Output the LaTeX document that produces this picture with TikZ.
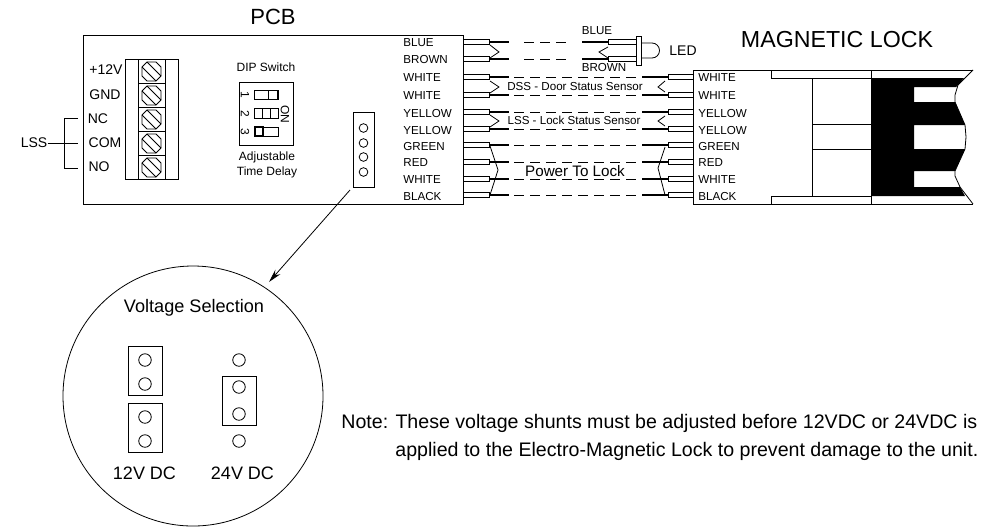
\documentclass[tikz,border=0pt]{standalone}
\usepackage{fontspec}
\setmainfont{Liberation Sans}
\usetikzlibrary{arrows.meta}
\tikzset{
	thickwire/.style={line width=1.5pt},
	dashwire/.style={line width=0.6pt, dash pattern=on 7.5pt off 4.5pt},
	wirelabel/.style={font=\fontsize{8.7}{10}\selectfont, inner sep=0pt, anchor=west},
	termlabel/.style={font=\fontsize{10.5}{12}\selectfont, inner sep=0pt},
	dipnum/.style={font=\fontsize{9}{10}\selectfont, inner sep=0pt, rotate=-90},
	pinhole/.style={draw, circle, line width=0.6pt, minimum size=12.5*0.75pt, inner sep=0pt},
	smallhole/.style={draw, circle, line width=0.6pt, minimum size=6.5pt, inner sep=0pt},
}
\begin{document}
\begin{tikzpicture}[x=0.75pt, y=-0.75pt, line width=0.6pt]
	\useasboundingbox (0, 0) rectangle (984, 526);

	% pcb
	\draw (83, 35) rectangle (463, 204);
	\node (pcbtitle) at (273, 17) {\fontsize{16.5}{18}\selectfont PCB};

	% terminal block
	\draw (125, 59) rectangle (178, 179);
	\draw (138, 59) -- (138, 179);
	\draw (165, 59) -- (165, 179);
	\foreach \y in {83, 107, 131, 155} {
		\draw (138, \y) -- (165, \y);
	}
	\foreach \y in {59, 83, 107, 131, 155} {
		\draw (142, \y+8) -- (147, \y+3) -- (156, \y+3) -- (161, \y+8) -- (161, \y+17) -- (156, \y+22) -- (147, \y+22) -- (142, \y+17) -- cycle;
		\draw (147, \y+3) -- (161, \y+17);
		\draw (142, \y+8) -- (156, \y+22);
	}
	\node[termlabel] (plus12) at (106, 70) {+12V};
	\node[termlabel] (gnd) at (105, 95) {GND};
	\node[termlabel] (nc) at (98, 119) {NC};
	\node[termlabel] (com) at (105, 143) {COM};
	\node[termlabel] (no) at (99, 167) {NO};

	% lss bracket
	\node[termlabel] (lss) at (34, 143) {LSS};
	\coordinate (brackettop) at (78, 118);
	\coordinate (bracketmid) at (78, 143);
	\coordinate (bracketbot) at (78, 168);
	\draw (brackettop) -- (64, 118) -- (64, 168) -- (bracketbot);
	\draw (lss) -- (bracketmid);

	% dip switch
	\node[font=\fontsize{9}{10}\selectfont] (diptitle) at (266, 67) {DIP Switch};
	\draw (239, 82) rectangle (293, 145);
	\draw (254, 90) rectangle (278, 99);
	\draw (254, 108) rectangle (278, 118);
	\draw (254, 127) rectangle (278, 136);
	\draw (268, 90) rectangle (277, 99);
	\draw (262, 108) rectangle (270, 118);
	\draw[line width=0.9pt] (255, 127) rectangle (263, 136);
	\node[dipnum] (dipone) at (245, 95) {1};
	\node[dipnum] (diptwo) at (245, 114) {2};
	\node[dipnum] (dipthree) at (245, 132) {3};
	\node[dipnum] (dipon) at (285, 114) {ON};
	\node[font=\fontsize{9}{10}\selectfont] (delayone) at (267, 157) {Adjustable};
	\node[font=\fontsize{9}{10}\selectfont] (delaytwo) at (267, 172) {Time Delay};

	% pin header
	\draw (353, 112) rectangle (374, 187);
	\foreach \y in {128, 143, 157, 172} {
		\node[smallhole] at (363.5, \y) {};
	}

	% wires
	\foreach \n/\y/\name in {
		3/77/WHITE,
		4/95/WHITE,
		5/112/YELLOW,
		6/129/YELLOW,
		7/145/GREEN,
		8/162/RED,
		9/179/WHITE,
		10/195/BLACK} {
		\coordinate (pcbend\n) at (489, \y);
		\coordinate (pcbstub\n) at (509, \y);
		\coordinate (lockstub\n) at (642, \y);
		\coordinate (lockend\n) at (668, \y);
		\draw (463, \y-2.5) rectangle (489, \y+2.5);
		\draw (668, \y-2.5) rectangle (693, \y+2.5);
		\draw[thickwire] (pcbend\n) -- (pcbstub\n);
		\draw[thickwire] (lockstub\n) -- (lockend\n);
		\draw[dashwire] (pcbstub\n) ++(5, 0) -- (lockstub\n);
		\node[wirelabel] (pcblabel\n) at (403, \y+1) {\name};
		\node[wirelabel] (locklabel\n) at (698, \y+1) {\name};
	}

	% led wires
	\foreach \n/\y/\name in {1/42/BLUE, 2/59/BROWN} {
		\coordinate (pcbend\n) at (489, \y);
		\coordinate (pcbstub\n) at (509, \y);
		\coordinate (ledstub\n) at (582, \y);
		\coordinate (ledend\n) at (608, \y);
		\draw (463, \y-2.5) rectangle (489, \y+2.5);
		\draw (608, \y-2.5) rectangle (636, \y+2.5);
		\draw[thickwire] (pcbend\n) -- (pcbstub\n);
		\draw[thickwire] (ledstub\n) -- (ledend\n);
		\draw[dashwire] (524, \y) -- (568, \y);
		\node[wirelabel] (pcblabel\n) at (403, \y+1) {\name};
	}

	% led
	\draw (636, 36) rectangle (641, 65);
	\draw (641, 43) -- (652, 43) arc[start angle=90, end angle=-90, radius=7.5*0.75pt] -- (641, 58);
	\node[wirelabel, anchor=center] (ledblue) at (597, 31) {BLUE};
	\node[wirelabel, anchor=center] (ledbrown) at (604, 68) {BROWN};
	\node[termlabel] (ledlabel) at (683, 51) {LED};

	% pairs
	\draw (490, 45) -- (499, 52) -- (490, 58);
	\draw (490, 81) -- (499, 87) -- (490, 93);
	\draw (490, 115) -- (499, 121) -- (490, 127);
	\draw (490, 146) -- (498, 170) -- (490, 195);
	\draw (608, 47) -- (599, 52) -- (608, 58);
	\draw (665, 81) -- (658, 87) -- (665, 92);
	\draw (665, 116) -- (658, 121) -- (665, 126);
	\draw (665, 147) -- (658, 168) -- (665, 195);
	\node[wirelabel, anchor=center] (dsslabel) at (575, 86) {DSS - Door Status Sensor};
	\node[wirelabel, anchor=center] (lsslabel) at (574, 120) {LSS - Lock Status Sensor};
	\node[font=\fontsize{11.4}{13}\selectfont, inner sep=0pt] (powerlabel) at (575, 171) {Power To Lock};

	% magnetic lock
	\node (locktitle) at (837, 40) {\fontsize{17.4}{20}\selectfont MAGNETIC LOCK};
	\draw (973, 70) -- (693, 70) -- (693, 204) -- (973, 204);
	\draw (771, 70) -- (771, 78) -- (871, 78);
	\draw (771, 204) -- (771, 196) -- (871, 196);
	\draw (871, 70) -- (871, 204);
	\draw (812, 78) -- (812, 196);
	\draw (812, 124) -- (871, 124);
	\draw (812, 149) -- (871, 149);
	\fill (871, 78) -- (964, 78) -- (958, 85) -- (956, 87) -- (914, 87) -- (914, 102) -- (955, 102) -- (965, 125) -- (914, 125) -- (914, 149) -- (965, 149) -- (955, 171) -- (914, 171) -- (914, 187) -- (960, 187) -- (965, 196) -- (871, 196) -- cycle;
	\draw (973, 70) -- (958, 85) -- (955, 95) -- (955, 102) -- (965, 125) -- (966, 137) -- (965, 149) -- (955, 171) -- (955, 176) -- (960, 187) -- (973, 204);

	% voltage selection
	\node[draw, circle, line width=0.6pt, minimum size=260*0.75pt, inner sep=0pt] (zoomcircle) at (193, 396) {};
	\coordinate (arrowstart) at (350, 190);
	\coordinate (arrowtip) at (269, 282);
	\draw[-{Stealth[length=10pt, width=5pt]}] (arrowstart) -- (arrowtip);
	\node (voltagetitle) at (194, 308) {\fontsize{13.6}{15}\selectfont Voltage Selection};
	\draw (128, 346) rectangle (162, 395);
	\draw (128, 403) rectangle (162, 452);
	\draw (222, 376) rectangle (256, 425);
	\foreach \y in {360, 384, 417, 441} {
		\node[pinhole] at (145, \y) {};
	}
	\foreach \y in {360, 387, 414, 441} {
		\node[pinhole] at (239, \y) {};
	}
	\node (twelvev) at (144.5, 473) {\fontsize{13.5}{15}\selectfont 12V DC};
	\node (twentyfourv) at (242.5, 473) {\fontsize{13.5}{15}\selectfont 24V DC};

	% note
	\node[anchor=west, inner sep=0pt] (noteone) at (341, 423) {\fontsize{14.7}{16}\selectfont Note: These voltage shunts must be adjusted before 12VDC or 24VDC is};
	\node[anchor=west, inner sep=0pt] (notetwo) at (395, 451) {\fontsize{14.7}{16}\selectfont applied to the Electro-Magnetic Lock to prevent damage to the unit.};
\end{tikzpicture}
\end{document}
